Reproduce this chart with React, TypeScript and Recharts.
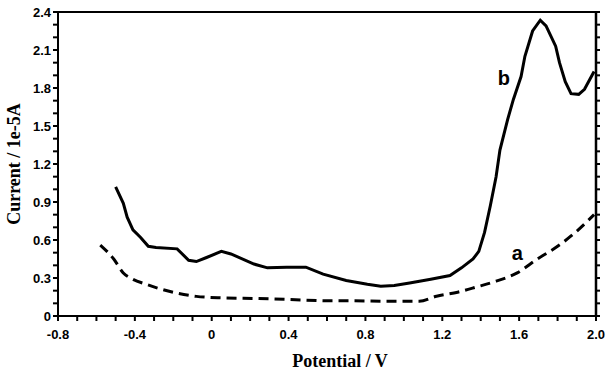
import { LineChart, Line, XAxis, YAxis, ReferenceDot, ReferenceLine, Label } from "recharts"

// curve a (dashed, blank electrode)
const aPotential = [-0.58, -0.51, -0.46, -0.41, -0.34, -0.27, -0.18, -0.08, 0.06, 0.23, 0.41, 0.62, 0.72, 0.9, 1.08, 1.17, 1.28, 1.38, 1.48, 1.59, 1.69, 1.8, 1.9, 1.99]
const aCurrent = [0.56, 0.45, 0.34, 0.29, 0.25, 0.215, 0.18, 0.155, 0.143, 0.138, 0.13, 0.12, 0.12, 0.117, 0.117, 0.156, 0.188, 0.23, 0.275, 0.34, 0.445, 0.55, 0.67, 0.8]

// curve b (solid)
const bPotential = [-0.5, -0.46, -0.44, -0.41, -0.37, -0.33, -0.29, -0.18, -0.12, -0.08, -0.03, 0.05, 0.1, 0.22, 0.29, 0.39, 0.49, 0.58, 0.7, 0.81, 0.88, 0.95, 1.03, 1.14, 1.24, 1.3, 1.36, 1.39, 1.42, 1.45, 1.48, 1.5, 1.54, 1.57, 1.61, 1.63, 1.67, 1.71, 1.74, 1.79, 1.81, 1.84, 1.87, 1.91, 1.94, 1.99]
const bCurrent = [1.02, 0.89, 0.78, 0.68, 0.62, 0.55, 0.54, 0.53, 0.44, 0.43, 0.46, 0.51, 0.49, 0.41, 0.38, 0.385, 0.385, 0.33, 0.28, 0.25, 0.235, 0.24, 0.26, 0.29, 0.32, 0.38, 0.45, 0.51, 0.66, 0.87, 1.1, 1.31, 1.55, 1.71, 1.89, 2.05, 2.25, 2.335, 2.29, 2.13, 2.0, 1.85, 1.755, 1.75, 1.79, 1.93]

const xMajorTicks = [-0.8, -0.4, 0, 0.4, 0.8, 1.2, 1.6, 2.0]
const xTickLabels = ["-0.8", "-0.4", "0", "0.4", "0.8", "1.2", "1.6", "2.0"]
const yMajorTicks = [0, 0.3, 0.6, 0.9, 1.2, 1.5, 1.8, 2.1, 2.4]
const yTickLabels = ["0", "0.3", "0.6", "0.9", "1.2", "1.5", "1.8", "2.1", "2.4"]

// minor ticks every 0.1
const xTicks = Array.from({ length: 29 }, (_, i) => Math.round((-0.8 + i * 0.1) * 10) / 10)
const yTicks = Array.from({ length: 25 }, (_, i) => i / 10)

const aData = aPotential.map((x, i) => ({ x, y: aCurrent[i] }))
const bData = bPotential.map((x, i) => ({ x, y: bCurrent[i] }))

const fmt = (majors: number[], labels: string[]) => (v: number) => {
  const i = majors.findIndex((t) => Math.abs(t - v) < 1e-6)
  return i >= 0 ? labels[i] : ""
}

const tickStyle = {
  fontSize: 13,
  fontWeight: "bold",
  fill: "#000",
  fontFamily: "Liberation Sans, Arial, sans-serif",
}
const titleFont = "Liberation Serif, Times New Roman, serif"

export default function App() {
  return (
    <div style={{ position: "absolute", left: 0, top: 0, background: "#fff" }}>
      <LineChart
        width={607}
        height={373}
        margin={{ top: 11, right: 10, left: 0, bottom: 0 }}
      >
        <XAxis
          dataKey="x"
          type="number"
          domain={[-0.8, 2.0]}
          ticks={xTicks}
          interval={0}
          tickFormatter={fmt(xMajorTicks, xTickLabels)}
          tick={tickStyle}
          tickSize={5}
          tickMargin={9}
          height={57}
          stroke="#000"
          strokeWidth={2}
          allowDataOverflow
        >
          <Label
            value="Potential / V"
            position="insideBottom"
            offset={6}
            dx={13}
            style={{ fontSize: 18, fontWeight: "bold", fill: "#000", fontFamily: titleFont }}
          />
        </XAxis>
        {/* top and right edges of the frame, ticks only */}
        <XAxis
          xAxisId="top"
          orientation="top"
          type="number"
          domain={[-0.8, 2.0]}
          ticks={xTicks}
          interval={0}
          tickFormatter={() => ""}
          tickSize={4}
          height={1}
          stroke="#000"
          strokeWidth={1.5}
          allowDataOverflow
        />
        <YAxis
          type="number"
          domain={[0, 2.4]}
          ticks={yTicks}
          interval={0}
          tickFormatter={fmt(yMajorTicks, yTickLabels)}
          tick={tickStyle}
          tickSize={5}
          tickMargin={2}
          width={58}
          stroke="#000"
          strokeWidth={2}
          allowDataOverflow
        >
          <Label
            value="Current / 1e-5A"
            angle={-90}
            position="insideLeft"
            offset={14}
            style={{ textAnchor: "middle", fontSize: 18, fontWeight: "bold", fill: "#000", fontFamily: titleFont }}
          />
        </YAxis>
        <YAxis
          yAxisId="right"
          orientation="right"
          type="number"
          domain={[0, 2.4]}
          ticks={yTicks}
          interval={0}
          tickFormatter={() => ""}
          tickSize={4}
          width={1}
          stroke="#000"
          strokeWidth={2}
          allowDataOverflow
        />
        <ReferenceLine y={2.4} stroke="#000" strokeWidth={2} ifOverflow="visible" />
        <ReferenceLine x={2.0} stroke="#000" strokeWidth={2.5} ifOverflow="visible" />
        <Line
          data={aData}
          dataKey="y"
          type="monotone"
          stroke="#000"
          strokeWidth={3}
          strokeDasharray="10 6"
          dot={false}
          activeDot={false}
          isAnimationActive={false}
        />
        <Line
          data={bData}
          dataKey="y"
          type="linear"
          stroke="#000"
          strokeWidth={3}
          dot={false}
          activeDot={false}
          isAnimationActive={false}
        />
        <ReferenceDot
          x={1.52}
          y={1.88}
          r={0}
          stroke="none"
          label={{ value: "b", fontSize: 20, fontWeight: "bold", fill: "#000", fontFamily: "Liberation Sans, Arial, sans-serif" }}
        />
        <ReferenceDot
          x={1.59}
          y={0.5}
          r={0}
          stroke="none"
          label={{ value: "a", fontSize: 20, fontWeight: "bold", fill: "#000", fontFamily: "Liberation Sans, Arial, sans-serif" }}
        />
      </LineChart>
    </div>
  )
}
